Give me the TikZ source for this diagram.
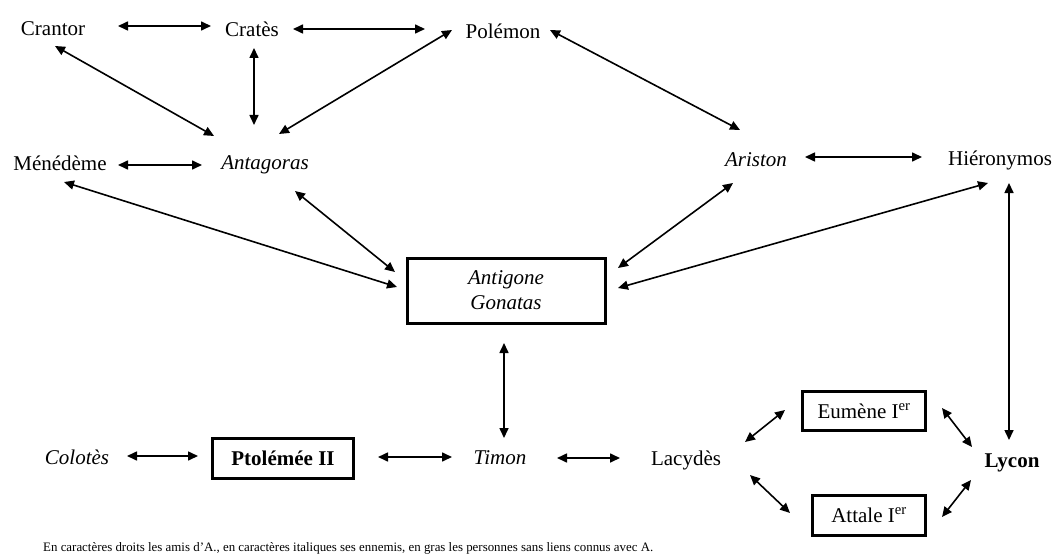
\documentclass[tikz,border=0pt]{standalone}
\usepackage{fontspec}
\setmainfont{Liberation Serif}
\usetikzlibrary{arrows.meta,calc}
\begin{document}
\begin{tikzpicture}[x=1pt,y=-1pt,
  person/.style={font=\fontsize{21}{24}\selectfont, inner sep=0pt},
  boxed/.style={person, draw, line width=3pt, inner sep=0pt},
  link/.style={line width=1.6pt, {Triangle[length=10pt,width=9pt]}-{Triangle[length=10pt,width=9pt]}}]
\useasboundingbox (0,0) rectangle (1056,556);
% nodes
\node[person] (crantor) at (53,29) {Crantor};
\node[person] (crates) at (252,29) {Cratès};
\node[person] (polemon) at (503,31) {Polémon};
\node[person] (menedeme) at (60,163) {Ménédème};
\node[person] (antagoras) at (265,165) {\itshape Antagoras};
\node[person] (ariston) at (756,160) {\itshape Ariston};
\node[person] (hieronymos) at (1000,160) {Hiéronymos};
\node[boxed, minimum width=198pt, minimum height=65pt, align=center] (antigone) at (506,290.5) {\itshape Antigone\\[1pt]\itshape Gonatas};
\node[person] (colotes) at (77,457) {\itshape Colotès};
\node[boxed, minimum width=141pt, minimum height=40pt] (ptolemee) at (283,458) {\bfseries Ptolémée II};
\node[person] (timon) at (500,458) {\itshape Timon};
\node[person] (lacydes) at (686,460) {Lacydès};
\node[boxed, minimum width=123pt, minimum height=39pt] (eumene) at (864,411) {Eumène I\textsuperscript{er}};
\node[boxed, minimum width=113pt, minimum height=40pt] (attale) at (869,515) {Attale I\textsuperscript{er}};
\node[person] (lycon) at (1012,463) {\bfseries Lycon};
\node[anchor=west, inner sep=0pt, font=\fontsize{12.9}{14}\selectfont] (caption) at (43,548) {En caractères droits les amis d’A., en caractères italiques ses ennemis, en gras les personnes sans liens connus avec A.};
% connectors
\draw[link] ($(crantor)+(65,-3)$) -- ($(crates)+(-41,-3)$);
\draw[link] ($(crates)+(41,0)$) -- ($(polemon)+(-78,-2)$);
\draw[link] ($(crantor)+(2,17)$) -- ($(antagoras)+(-51,-29)$);
\draw[link] ($(crates)+(2,19)$) -- ($(antagoras)+(-11,-40)$);
\draw[link] ($(polemon)+(-51,-1)$) -- ($(antagoras)+(14,-31)$);
\draw[link] ($(polemon)+(47,-1)$) -- ($(ariston)+(-16,-30)$);
\draw[link] ($(menedeme)+(58,2)$) -- ($(antagoras)+(-63,0)$);
\draw[link] ($(ariston)+(49,-3)$) -- ($(hieronymos)+(-78,-3)$);
\draw[link] ($(menedeme)+(4,19)$) -- ($(antigone)+(-109,-3.5)$);
\draw[link] ($(antagoras)+(30,26)$) -- ($(antigone)+(-111,-18.5)$);
\draw[link] ($(ariston)+(-23,23)$) -- ($(antigone)+(112,-22.5)$);
\draw[link] ($(hieronymos)+(-12,23)$) -- ($(antigone)+(112,-2.5)$);
\draw[link] ($(hieronymos)+(9,23)$) -- ($(lycon)+(-3,-23)$);
\draw[link] ($(antigone)+(-2,52.5)$) -- ($(timon)+(4,-20)$);
\draw[link] ($(colotes)+(50,-1)$) -- ($(ptolemee)+(-85,-2)$);
\draw[link] ($(ptolemee)+(95,-1)$) -- ($(timon)+(-48,-1)$);
\draw[link] ($(timon)+(57,0)$) -- ($(lacydes)+(-66,-2)$);
\draw[link] ($(lacydes)+(59,-18)$) -- ($(eumene)+(-79,-1)$);
\draw[link] ($(lacydes)+(64,15)$) -- ($(attale)+(-79,-2)$);
\draw[link] ($(eumene)+(78,-3)$) -- ($(lycon)+(-40,-16)$);
\draw[link] ($(attale)+(73,2)$) -- ($(lycon)+(-41,17)$);
\end{tikzpicture}
\end{document}
